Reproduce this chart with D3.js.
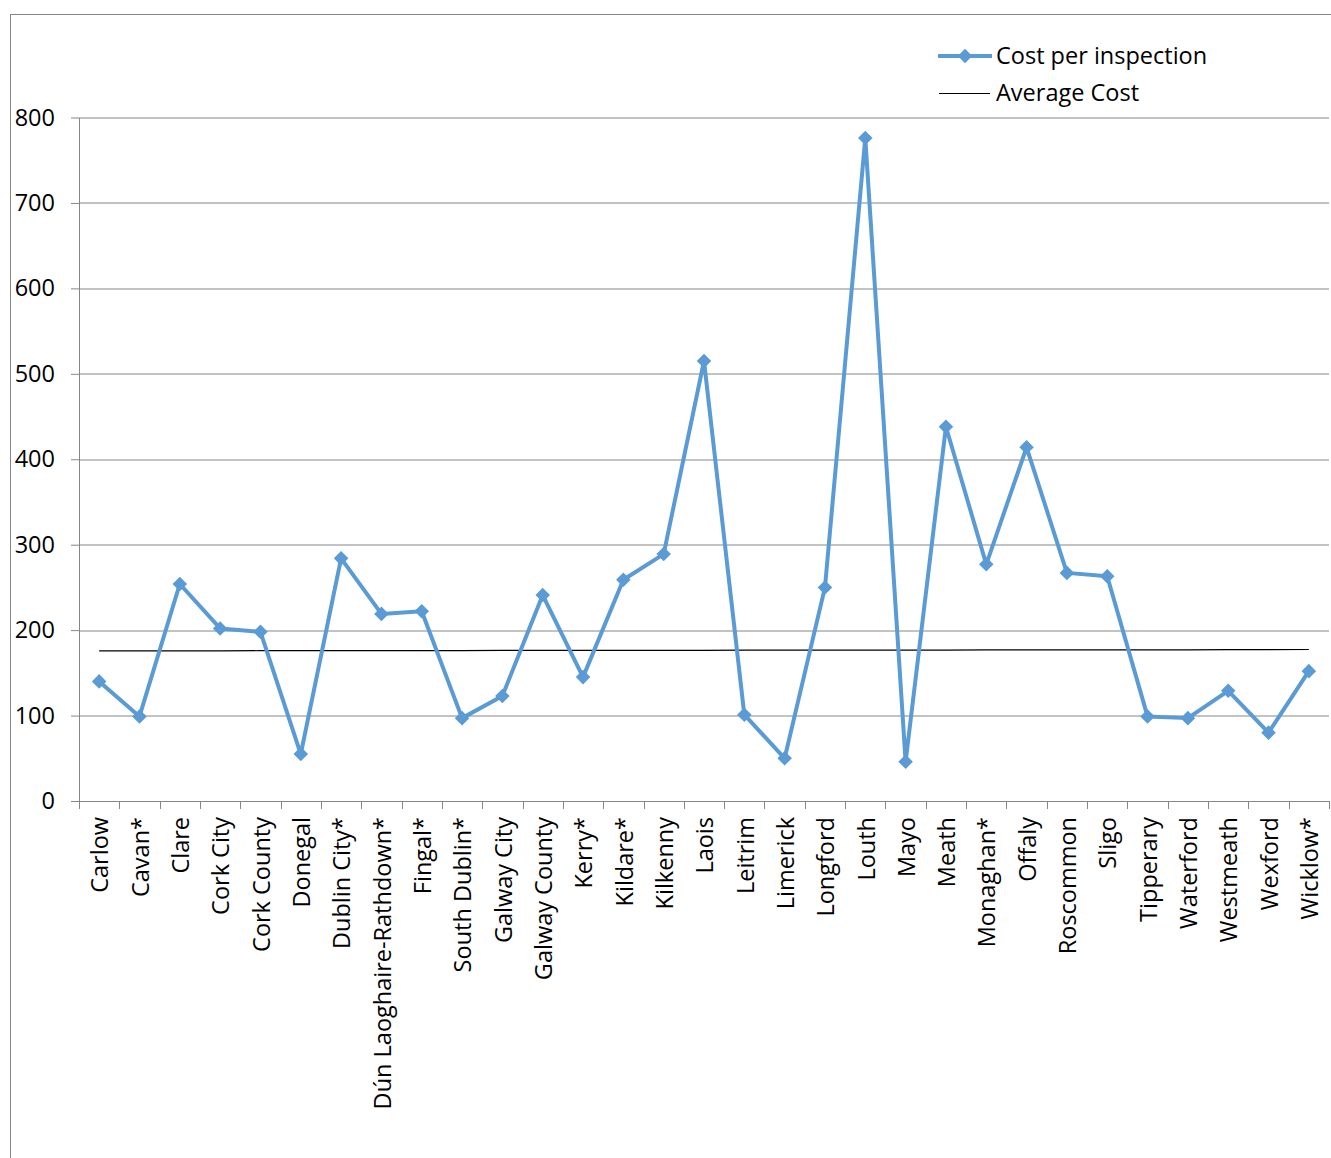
<!DOCTYPE html>
<html>
<head>
<meta charset="utf-8">
<script src="https://cdn.jsdelivr.net/npm/d3@7"></script>
<style>
  body { margin: 0; background: #fff; }
  text { font-family: "Open Sans", sans-serif; fill: #000; }
</style>
</head>
<body>
<div id="Chart"></div>
<script>
// categories and values
var councils = ["Carlow", "Cavan*", "Clare", "Cork City", "Cork County", "Donegal",
  "Dublin City*", "Dún Laoghaire-Rathdown*", "Fingal*", "South Dublin*", "Galway City",
  "Galway County", "Kerry*", "Kildare*", "Kilkenny", "Laois", "Leitrim", "Limerick",
  "Longford", "Louth", "Mayo", "Meath", "Monaghan*", "Offaly", "Roscommon", "Sligo",
  "Tipperary", "Waterford", "Westmeath", "Wexford", "Wicklow*"];
var costPerInspection = [140, 99, 254, 202, 198, 55, 284, 219, 222, 97, 123,
  241, 145, 259, 289, 515, 101, 50, 250, 776, 46, 438, 277, 414, 267, 263,
  99, 97, 129, 80, 152];
var averageCost = [175.7, 175.7, 175.8, 175.8, 175.9, 175.9, 176.0, 176.0, 176.1, 176.1, 176.2,
  176.2, 176.3, 176.3, 176.4, 176.4, 176.5, 176.5, 176.6, 176.6, 176.7, 176.7, 176.8, 176.8, 176.9,
  176.9, 177.0, 177.0, 177.1, 177.2, 177.3];
var yTicks = [0, 100, 200, 300, 400, 500, 600, 700, 800];
var legendNames = ["Cost per inspection", "Average Cost"];

var W = 1331, H = 1158;
var margin = {top: 117.5, right: 2, bottom: 357, left: 79},
    width = W - margin.left - margin.right,
    height = H - margin.top - margin.bottom;
var blue = "#5b9bd5", grey = "#868686";

var svg = d3.select("#Chart").append("svg")
  .attr("width", W).attr("height", H);

// outer chart frame
svg.append("rect")
  .attr("x", 10.5).attr("y", 14.5)
  .attr("width", W + 20).attr("height", H + 20)
  .attr("fill", "none").attr("stroke", grey).attr("stroke-width", 1);

var g = svg.append("g")
  .attr("transform", "translate(" + margin.left + "," + margin.top + ")");

var x = d3.scaleBand().domain(councils).range([0, width]);
var y = d3.scaleLinear().domain([0, 800]).range([height, 0]);

// gridlines
g.selectAll("line.grid")
  .data(yTicks.filter(function(d){ return d > 0; }))
  .enter().append("line")
  .attr("class", "grid")
  .attr("x1", 0).attr("x2", width)
  .attr("y1", function(d){ return Math.round(y(d)) + 0.5; })
  .attr("y2", function(d){ return Math.round(y(d)) + 0.5; })
  .attr("stroke", grey).attr("stroke-width", 1);

// y axis
var yaxis = g.append("g")
  .call(d3.axisLeft(y).tickValues(yTicks).tickSize(8).tickPadding(16).tickSizeOuter(0));
yaxis.select(".domain").attr("stroke", grey);
yaxis.selectAll(".tick line").attr("stroke", grey);
yaxis.selectAll(".tick text")
  .style("font-size", "23.5px").style("font-family", "Open Sans").attr("fill", "#000");

// x axis: ticks sit on category boundaries
var xaxis = g.append("g")
  .attr("transform", "translate(0," + height + ")");
xaxis.append("line")
  .attr("x1", 0).attr("x2", width).attr("y1", 0.5).attr("y2", 0.5)
  .attr("stroke", grey);
xaxis.selectAll("line.xtick")
  .data(councils.concat(["end"]))
  .enter().append("line")
  .attr("class", "xtick")
  .attr("x1", function(d, i){ return Math.round(i * x.step()) + 0.5; })
  .attr("x2", function(d, i){ return Math.round(i * x.step()) + 0.5; })
  .attr("y1", 0).attr("y2", 8)
  .attr("stroke", grey);
xaxis.selectAll("text.xlabel")
  .data(councils)
  .enter().append("text")
  .attr("class", "xlabel")
  .attr("transform", function(d){
    return "translate(" + (x(d) + x.bandwidth() / 2 + 1) + ",16) rotate(-90)";
  })
  .attr("dy", "0.35em")
  .style("text-anchor", "end")
  .style("font-size", "23.5px")
  .text(function(d){ return d; });

// average line
var line = d3.line()
  .x(function(d, i){ return x(councils[i]) + x.bandwidth() / 2; })
  .y(function(d){ return y(d); });
g.append("path")
  .datum(averageCost)
  .attr("fill", "none").attr("stroke", "#000").attr("stroke-width", 1.2)
  .attr("d", line);

// cost series
g.append("path")
  .datum(costPerInspection)
  .attr("fill", "none").attr("stroke", blue).attr("stroke-width", 4)
  .attr("stroke-linejoin", "round")
  .attr("d", line);
var diamond = d3.symbol().type(d3.symbolDiamond2).size(135);
g.selectAll("path.marker")
  .data(costPerInspection)
  .enter().append("path")
  .attr("class", "marker")
  .attr("transform", function(d, i){
    return "translate(" + (x(councils[i]) + x.bandwidth() / 2) + "," + y(d) + ")";
  })
  .attr("d", diamond)
  .attr("fill", blue);

// legend
var legend = svg.append("g").attr("transform", "translate(938,56)");
legend.append("line")
  .attr("x1", 0).attr("x2", 54).attr("y1", 0).attr("y2", 0)
  .attr("stroke", blue).attr("stroke-width", 4);
legend.append("path")
  .attr("transform", "translate(27,0)")
  .attr("d", diamond).attr("fill", blue);
legend.append("line")
  .attr("x1", 1).attr("x2", 52).attr("y1", 37.5).attr("y2", 37.5)
  .attr("stroke", "#000").attr("stroke-width", 1.2);
legend.selectAll("text")
  .data(legendNames)
  .enter().append("text")
  .attr("x", 58)
  .attr("y", function(d, i){ return i * 37; })
  .attr("dy", "0.35em")
  .style("font-size", "23.5px")
  .text(function(d){ return d; });
</script>
</body>
</html>
